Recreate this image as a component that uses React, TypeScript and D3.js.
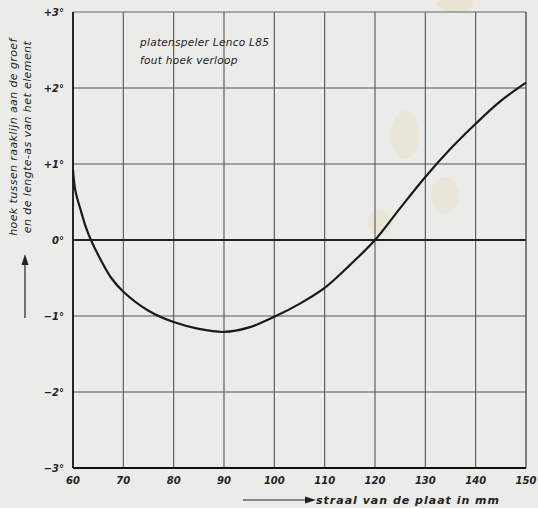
import React from "react";
import * as d3 from "d3";

const radiusMm = [60, 60.5, 61.5, 62.5, 63.5, 65.5, 67.5, 70, 75, 80, 85, 90, 95, 100, 105, 110, 115, 120, 125, 130, 135, 140, 145, 150];
const angleDeg = [0.92, 0.64, 0.4, 0.18, 0.01, -0.26, -0.49, -0.68, -0.93, -1.08, -1.17, -1.21, -1.15, -1.01, -0.84, -0.63, -0.33, 0.0, 0.42, 0.83, 1.2, 1.53, 1.83, 2.07];
const xTicks = [60, 70, 80, 90, 100, 110, 120, 130, 140, 150];
const yTicks = [3, 2, 1, 0, -1, -2, -3];
const yTickLabels = ["+3°", "+2°", "+1°", "0°", "−1°", "−2°", "−3°"];
const titleLines = ["platenspeler  Lenco L85", "fout hoek verloop"];
const yTitleLines = ["hoek tussen raaklijn aan de groef", "en de lengte-as van het element"];
const xTitle = "straal van de plaat  in mm";

export default function App() {
  const W = 538, H = 508;
  const x = d3.scaleLinear().domain([60, 150]).range([73, 526]);
  const y = d3.scaleLinear().domain([-3, 3]).range([468, 12]);
  const data = radiusMm.map((r, i) => [r, angleDeg[i]] as [number, number]);
  const line = d3.line<[number, number]>().x(d => x(d[0])).y(d => y(d[1])).curve(d3.curveCatmullRom.alpha(0.5));
  const font = "'DejaVu Sans', sans-serif";
  return (
    <svg width={W} height={H} style={{ position: "absolute", left: 0, top: 0, background: "#ebebea" }}>
      <rect x={0} y={0} width={W} height={H} fill="#ebebea" />
      <ellipse cx={455} cy={4} rx={18} ry={8} fill="#e6dcb4" opacity={0.45} />
      <ellipse cx={405} cy={135} rx={14} ry={24} fill="#e6dcb8" opacity={0.35} />
      <ellipse cx={445} cy={195} rx={14} ry={18} fill="#e6dcb8" opacity={0.35} />
      <ellipse cx={380} cy={222} rx={12} ry={12} fill="#e8dcb0" opacity={0.35} />
      {/* grid */}
      {xTicks.slice(1, -1).map(t => (
        <line key={"vx" + t} x1={x(t)} x2={x(t)} y1={y(3)} y2={y(-3)} stroke="#555" strokeWidth={1.1} />
      ))}
      {yTicks.slice(1, -1).map(t => (
        <line key={"hy" + t} x1={x(60)} x2={x(150)} y1={y(t)} y2={y(t)} stroke={t === 0 ? "#222" : "#555"} strokeWidth={t === 0 ? 1.8 : 1.2} />
      ))}
      <line x1={x(60)} x2={x(150)} y1={y(3)} y2={y(3)} stroke="#666" strokeWidth={1.2} />
      <line x1={x(150)} x2={x(150)} y1={y(3)} y2={y(-3)} stroke="#444" strokeWidth={1.3} />
      <line x1={x(60)} x2={x(60)} y1={y(3)} y2={y(-3)} stroke="#111" strokeWidth={1.8} />
      <line x1={x(60)} x2={x(150)} y1={y(-3)} y2={y(-3)} stroke="#111" strokeWidth={2} />
      {/* curve */}
      <path d={line(data) || ""} fill="none" stroke="#1a1a1a" strokeWidth={2.2} />
      {/* y tick labels */}
      {yTicks.map((t, i) => (
        <text key={"yl" + t} x={64} y={y(t) + 4} textAnchor="end" fontFamily={font} fontStyle="italic" fontWeight="bold" fontSize={10} fill="#222">{yTickLabels[i]}</text>
      ))}
      {/* x tick labels */}
      {xTicks.map(t => (
        <text key={"xl" + t} x={x(t)} y={484} textAnchor="middle" fontFamily={font} fontStyle="italic" fontWeight="bold" fontSize={10} fill="#222">{t}</text>
      ))}
      {/* annotation */}
      {titleLines.map((s, i) => (
        <text key={"t" + i} x={140} y={46 + i * 18} fontFamily={font} fontStyle="italic" fontSize={10.5} letterSpacing={0.3} fill="#222">{s}</text>
      ))}
      {/* y title */}
      {yTitleLines.map((s, i) => (
        <text key={"yt" + i} transform={`translate(${17 + i * 14},${137}) rotate(-90)`} textAnchor="middle" fontFamily={font} fontStyle="italic" fontSize={11} letterSpacing={0.4} fill="#222">{s}</text>
      ))}
      <line x1={25} x2={25} y1={318} y2={262} stroke="#222" strokeWidth={1.2} />
      <path d="M25,254 L21.5,265 L28.5,265 Z" fill="#222" />
      {/* x title */}
      <line x1={243} x2={310} y1={500} y2={500} stroke="#222" strokeWidth={1.2} />
      <path d="M316,500 L305,496.5 L305,503.5 Z" fill="#222" />
      <text x={316} y={504} fontFamily={font} fontStyle="italic" fontWeight="bold" fontSize={11} letterSpacing={1} fill="#222">{xTitle}</text>
    </svg>
  );
}
